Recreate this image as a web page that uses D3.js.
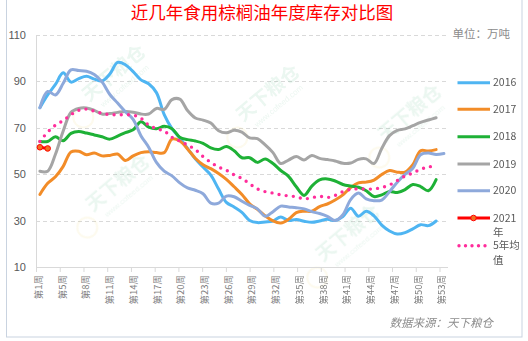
<!DOCTYPE html>
<html>
<head>
<meta charset="utf-8">
<script src="https://cdn.jsdelivr.net/npm/d3@7/dist/d3.min.js"></script>
<style>
  html, body { margin: 0; padding: 0; background: #fff; }
  svg { display: block; }
</style>
</head>
<body>
<svg id="chart" width="528" height="341"></svg>
<script>
// ---------------- DATA ----------------
const weeks = [1,2,3,4,5,6,7,8,9,10,11,12,13,14,15,16,17,18,19,20,21,22,23,24,25,26,27,28,29,30,31,32,33,34,35,36,37,38,39,40,41,42,43,44,45,46,47,48,49,50,51,52,53];
const tickLabels = ["第1周","第5周","第8周","第11周","第14周","第17周","第20周","第23周","第26周","第29周","第32周","第35周","第38周","第41周","第44周","第47周","第50周","第53周"];
const yTicks = [10, 30, 50, 70, 90, 110];

const s2016 = [78.5,84,88.5,93.5,89.5,91,92,90.8,90,93,98,97,94,90.5,88.8,85,75.5,69.5,65.5,61,56.5,53,49.5,43.5,37.8,35.8,33.5,30,29.1,29.4,29.8,31.5,30,30.4,29.7,29.2,29.8,30.5,30,31.7,35.3,31.8,34,32,28,25.5,24.2,24.8,26.4,28.2,27.8,29.8];
const s2017 = [41.2,46,48.8,53.3,59.5,59.8,58.3,59,57.8,58,58.6,55.8,57.8,59.2,59.6,59.2,59.2,65,64.2,60.8,56.8,54,52.3,50.2,47.7,44.5,41.2,37.2,34.8,32,29.8,28.9,30.5,33.4,34,34,36,37.1,38.8,41,44.2,46.2,46.5,47.4,49.8,51.5,50.8,50.8,54,60,59.9,60.5];
const s2018 = [64,64,66,64.3,67.5,68.3,67.6,66.8,66,65,66.3,67.8,69,72.5,70.2,69.5,70.5,69.5,65.8,64.8,64.2,63.2,61.2,60.5,61.8,60,57,57,55,56.5,54.5,51.5,49,44.5,40.8,44.8,47.5,47.9,47,45.5,44.8,44.3,42.8,40.3,41,42.5,42,43.3,45.5,44.6,42.8,47.6];
const s2019 = [51.2,51.2,58.5,68.5,76.5,78.2,78.4,77.4,75.8,76,76.5,76.9,76.6,75.8,75.8,78.2,77.8,82,82.2,77.3,74.1,73.2,71.9,68.6,67.7,68.8,68,65.5,65.2,62.5,59.2,54.5,56,57.5,56,58,56.7,56.2,55.6,54.6,54.7,56.3,56.5,54.5,61,66.5,68.8,69.4,70.8,72.2,73.2,74.2];
const s2020 = [78.5,85.5,84,89,94.8,94.5,94.2,92.8,89.6,84.2,80.5,76.8,73.5,66.5,61.5,55,51.2,49.2,46.2,44,43,41.5,37.5,37.5,40.5,40.2,38.3,36.5,35,31.8,33.8,36.2,35.8,35.5,35,33.8,33,31.8,30,32.5,39,41.8,39.3,38.5,38.8,42.4,46.5,49.8,52.5,58.3,59,58.4,58.8];
const s2021 = [61.5,61];
const sAvg5 = [64,68,71,73,75.5,77.4,77.9,77,76.1,75.5,75.5,75.5,75.3,74,71,69.5,68.5,65.8,64.2,62.5,60.5,57.5,55,53,51.6,49.6,48.1,45.8,43.6,42.4,41.8,41,40.6,40.2,39.3,39.8,40.4,39.9,40.8,42.4,43.4,43.6,43.5,43.6,44.2,45.3,47.2,49.1,50.4,52,53,53.5];

const seriesNames = ["2016","2017","2018","2019","2020","2021年","5年均值"];
const seriesData = [s2016, s2017, s2018, s2019, s2020, s2021, sAvg5];
const seriesColors = ["#4FB5F2","#F28C28","#1EB136","#A5A5A5","#8EA9DB","#FF0000","#FF2D9B"];

// ---------------- LAYOUT ----------------
const svg = d3.select("#chart");
const plotLeft = 36, plotRight = 448, plotTop = 34.5, plotBottom = 267;

const x = d3.scalePoint().domain(weeks).range([39.9, 443.9]);
const xTicks = d3.scalePoint().domain(tickLabels).range([36, 439.5]);
const y = d3.scaleLinear().domain([10, 110]).range([plotBottom, plotTop]);

// outer border
svg.append("rect").attr("x", 6.5).attr("y", -2).attr("width", 515.5).attr("height", 339)
  .attr("fill", "none").attr("stroke", "#C9D3E0").attr("stroke-width", 1);

// title
svg.append("text").attr("x", 262).attr("y", 19).attr("text-anchor", "middle")
  .attr("font-family", "'Noto Sans CJK SC', sans-serif").attr("font-size", 17.5)
  .attr("fill", "#FF0000").text("近几年食用棕榈油年度库存对比图");

// unit
svg.append("text").attr("x", 510).attr("y", 37.5).attr("text-anchor", "end")
  .attr("font-family", "'Noto Sans CJK SC', sans-serif").attr("font-size", 11.5)
  .attr("fill", "#8C8C8C").text("单位：万吨");

// gridlines
svg.append("g").selectAll("line").data(yTicks.filter(d => d !== 10)).join("line")
  .attr("x1", plotLeft).attr("x2", plotRight)
  .attr("y1", d => Math.round(y(d)) + 0.5).attr("y2", d => Math.round(y(d)) + 0.5)
  .attr("stroke", "#D9D9D9").attr("stroke-width", 1).attr("stroke-dasharray", "4,3");

// watermark
const wmPos = [[118, 78], [272, 98], [414, 118], [122, 188], [352, 238]];
const wm = svg.append("g").attr("opacity", 0.09);
wmPos.forEach(([wx, wy]) => {
  const g = wm.append("g").attr("transform", `translate(${wx},${wy}) rotate(-40)`);
  g.append("text").attr("text-anchor", "middle").attr("font-family", "'Noto Sans CJK SC', sans-serif")
    .attr("font-size", 19).attr("font-weight", "bold").attr("fill", "#1E9E5A").text("天下粮仓");
  g.append("text").attr("text-anchor", "middle").attr("y", 13).attr("font-family", "Arial, sans-serif")
    .attr("font-size", 8).attr("fill", "#1E9E5A").text("www.cofeed.com");
  g.append("circle").attr("cx", -52).attr("cy", 8).attr("r", 10)
    .attr("fill", "none").attr("stroke", "#E8C63A").attr("stroke-width", 2);
});

// y axis
const yAxis = svg.append("g").attr("transform", `translate(${plotLeft},0)`)
  .call(d3.axisLeft(y).tickValues(yTicks).tickSize(0).tickPadding(10));
yAxis.select(".domain").attr("stroke", "#D9D9D9");
yAxis.selectAll("text").attr("font-family", "'Liberation Sans', Arial, sans-serif")
  .attr("font-size", 11).attr("fill", "#595959");

// x axis
const xAxisG = svg.append("g").attr("transform", `translate(0,${plotBottom})`)
  .call(d3.axisBottom(xTicks).tickSize(5).tickSizeOuter(0));
xAxisG.select(".domain").attr("d", `M${plotLeft},0.5H${plotRight}`).attr("stroke", "#D9D9D9");
xAxisG.selectAll(".tick line").attr("stroke", "#D9D9D9");
xAxisG.selectAll(".tick text")
  .attr("font-family", "'Noto Sans CJK SC', sans-serif").attr("font-size", 9.5).attr("fill", "#7F7F7F")
  .attr("text-anchor", "end").attr("dy", "0.35em")
  .attr("transform", "translate(2,0) rotate(-90)")
  .attr("x", -8).attr("y", 0);

// lines
const line = d3.line().x((d, i) => x(weeks[i])).y(d => y(d)).curve(d3.curveCatmullRom.alpha(0.5));
const lines = svg.append("g").attr("fill", "none");
seriesData.forEach((data, si) => {
  const p = lines.append("path").datum(data).attr("d", line)
    .attr("stroke", seriesColors[si]).attr("stroke-width", 3)
    .attr("stroke-linejoin", "round").attr("stroke-linecap", "round");
  if (si === 6) {
    p.attr("stroke-dasharray", "0,7.2").attr("stroke-width", 3.4);
  }
});
// 2021 markers
svg.append("g").selectAll("circle").data(s2021).join("circle")
  .attr("cx", (d, i) => x(weeks[i])).attr("cy", d => y(d)).attr("r", 2.8)
  .attr("fill", "#F07020").attr("stroke", "#FF0000").attr("stroke-width", 1);

// legend
const legendY = [82.7, 109.3, 136.7, 164, 190.7, 218, 245.7];
const legend = svg.append("g");
seriesNames.forEach((name, i) => {
  const ly = legendY[i];
  const l = legend.append("line").attr("x1", 457.5).attr("x2", 490).attr("y1", ly).attr("y2", ly)
    .attr("stroke", seriesColors[i]).attr("stroke-width", 3).attr("stroke-linecap", i === 6 ? "round" : "butt");
  if (i === 6) l.attr("stroke-dasharray", "0,6.5").attr("stroke-width", 3.4).attr("x1", 459);
  if (i === 5) {
    legend.append("circle").attr("cx", 473.5).attr("cy", ly).attr("r", 2.8)
      .attr("fill", "#F07020").attr("stroke", "#FF0000").attr("stroke-width", 1);
  }
  let parts = [name];
  if (name === "2021年") parts = ["2021", "年"];
  if (name === "5年均值") parts = ["5年均", "值"];
  parts.forEach((p, k) => {
    legend.append("text").attr("x", 493).attr("y", ly + k * 14.2).attr("dy", "0.36em")
      .attr("font-family", "'Noto Sans CJK SC', sans-serif").attr("font-size", 10.5)
      .attr("fill", "#595959").text(p);
  });
});

// source
svg.append("text").attr("x", 493).attr("y", 327).attr("text-anchor", "end")
  .attr("font-family", "'Noto Sans CJK SC', sans-serif").attr("font-size", 11.5)
  .attr("font-style", "italic").attr("fill", "#8C8C8C").text("数据来源：天下粮仓");
</script>
</body>
</html>
